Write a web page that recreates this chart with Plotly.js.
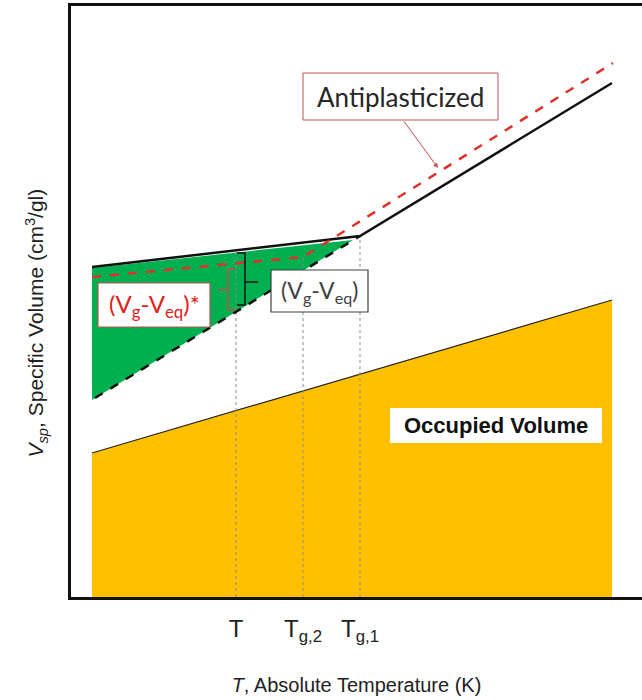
<!DOCTYPE html>
<html>
<head>
<meta charset="utf-8">
<script src="https://cdn.plot.ly/plotly-3.0.1.min.js"></script>
<style>html,body{margin:0;padding:0;background:#fff;}#chart{width:642px;height:700px;}</style>
</head>
<body>
<div id="chart"></div>
<script>
// Schematic values (arbitrary temperature / volume units)
const occT = [21, 21, 541, 541];
const occV = [0, 144, 297, 0];
const occLineT = [21, 541];
const occLineV = [144, 297];
const glassT = [21, 289, 541];
const glassV = [330, 361, 514];
const antiT = [21, 232, 542];
const antiV = [320, 340, 534];
const eqT = [24, 289];
const eqV = [199, 361];
const greenT = [21, 282, 21];
const greenV = [329, 357, 197];
const markT = [165, 232, 289];
const markTopV = [347, 340, 361];
const tickLabels = ['T', 'T<sub>g,2</sub>', 'T<sub>g,1</sub>'];
const redBraceT = [164, 157, 157, 147, 157, 157, 164];
const redBraceV = [328, 328, 307, 307, 307, 287, 287];
const blackBraceT = [166, 174, 174, 187, 174, 174, 166];
const blackBraceV = [344, 344, 315, 315, 315, 292, 292];

const traces = [];
traces.push({x: occT, y: occV, mode: 'lines', fill: 'toself', fillcolor: '#FFC000', line: {width: 0}, hoverinfo: 'skip'});
traces.push({x: occLineT, y: occLineV, mode: 'lines', line: {color: '#222', width: 1.2}});
traces.push({x: greenT, y: greenV, mode: 'lines', fill: 'toself', fillcolor: '#00B050', line: {width: 0}});
markT.forEach((t, i) => {
  traces.push({x: [t, t], y: [0, markTopV[i]], mode: 'lines', line: {color: '#8a8a8a', width: 1, dash: 'dot'}});
});
traces.push({x: eqT, y: eqV, mode: 'lines', line: {color: '#111', width: 2.5, dash: 'dash'}});
traces.push({x: glassT, y: glassV, mode: 'lines', line: {color: '#111', width: 2.5}});
traces.push({x: antiT, y: antiV, mode: 'lines', line: {color: '#E0302A', width: 2.5, dash: 'dash'}});
traces.push({x: redBraceT, y: redBraceV, mode: 'lines', line: {color: '#C0504D', width: 1.5}});
traces.push({x: blackBraceT, y: blackBraceV, mode: 'lines', line: {color: '#111', width: 1.5}});

const shapes = [
  {type: 'rect', xref: 'x', yref: 'y', x0: 232, x1: 427, y0: 477, y1: 524, line: {color: '#C0504D', width: 1}, fillcolor: '#fff', layer: 'above'},
  {type: 'rect', xref: 'x', yref: 'y', x0: 27, x1: 139, y0: 270, y1: 314, line: {color: '#C0504D', width: 1.2}, fillcolor: '#fff', layer: 'above'},
  {type: 'rect', xref: 'x', yref: 'y', x0: 200, x1: 297, y0: 285, y1: 327, line: {color: '#404040', width: 1.2}, fillcolor: '#fff', layer: 'above'},
  {type: 'rect', xref: 'x', yref: 'y', x0: 319, x1: 531, y0: 154, y1: 189, line: {width: 0}, fillcolor: '#fff', layer: 'above'}
];

const calib = 'Lato, "Open Sans", sans-serif';
const arial = '"Liberation Sans", Arial, sans-serif';
const annotations = [
  {x: 367, y: 429, ax: 332, ay: 477, axref: 'x', ayref: 'y', xref: 'x', yref: 'y', text: '', showarrow: true, arrowhead: 2, arrowsize: 1, arrowwidth: 1, arrowcolor: '#C0504D'},
  {x: 329.5, y: 500.5, xref: 'x', yref: 'y', text: 'Antiplasticized', showarrow: false, font: {family: calib, size: 26, color: '#262626'}},
  {x: 83, y: 292, xref: 'x', yref: 'y', text: '(V<sub>g</sub>-V<sub>eq</sub>)*', showarrow: false, font: {family: calib, size: 24, color: '#E0201B'}},
  {x: 248.5, y: 306, xref: 'x', yref: 'y', text: '(V<sub>g</sub>-V<sub>eq</sub>)', showarrow: false, font: {family: calib, size: 23, color: '#404040'}},
  {x: 425, y: 171.5, xref: 'x', yref: 'y', text: '<b>Occupied Volume</b>', showarrow: false, font: {family: arial, size: 22, color: '#111'}},
  {x: -52 / 571, y: 274, xref: 'paper', yref: 'y', text: '<i>V<sub>sp</sub></i>, Specific Volume (cm<sup>3</sup>/gl)', textangle: -90, showarrow: false, font: {family: arial, size: 21, color: '#222'}}
];

const layout = {
  width: 642, height: 700,
  margin: {l: 71, r: 0, t: 6, b: 103},
  paper_bgcolor: '#fff', plot_bgcolor: '#fff',
  showlegend: false,
  xaxis: {
    range: [0, 571], showgrid: false, zeroline: false,
    showline: true, linecolor: '#111', linewidth: 3, mirror: true,
    tickmode: 'array', tickvals: markT, ticktext: tickLabels, ticks: '',
    ticklabelstandoff: 8,
    tickfont: {family: arial, size: 24, color: '#222'},
    title: {text: '<i>T</i>, Absolute Temperature (K)', font: {family: arial, size: 20, color: '#222'}, standoff: 34}
  },
  yaxis: {
    range: [0, 591], showgrid: false, zeroline: false,
    showline: true, linecolor: '#111', linewidth: 3,
    showticklabels: false, ticks: ''
  },
  shapes: shapes,
  annotations: annotations
};

Plotly.newPlot('chart', traces, layout, {displayModeBar: false, staticPlot: true});
</script>
</body>
</html>
